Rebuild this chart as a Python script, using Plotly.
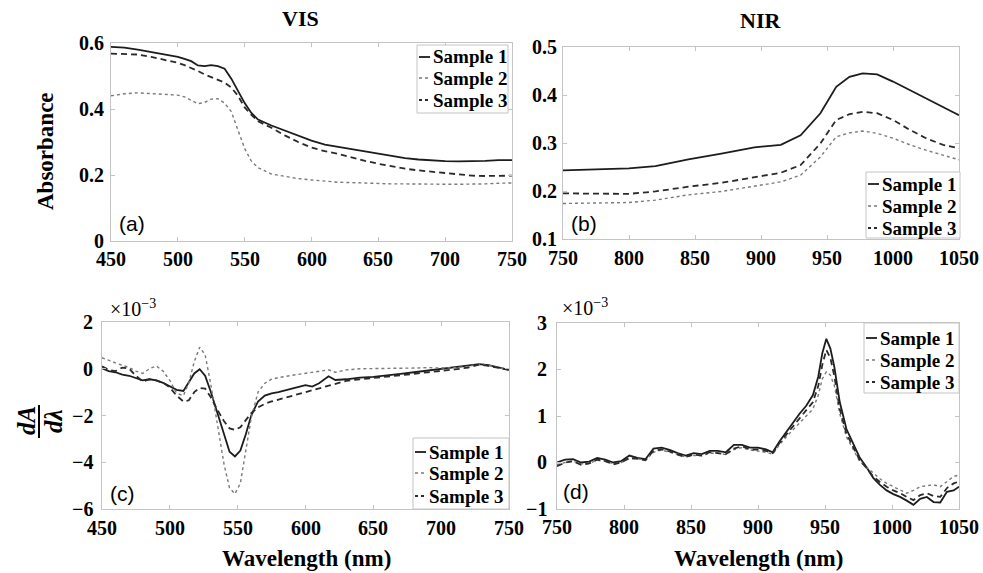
import plotly.graph_objects as go

# ---------------- data ----------------
wl_vis = [450,460,470,480,490,500,505,510,515,520,525,530,535,540,545,550,555,560,570,580,
          590,600,610,620,630,640,650,660,670,680,690,700,710,720,730,740,750]
abs_vis_s1 = [.588,.586,.580,.573,.566,.558,.552,.545,.532,.530,.533,.530,.522,.492,.455,.418,.388,.368,.350,.334,
              .318,.304,.292,.285,.277,.270,.264,.257,.251,.247,.244,.242,.241,.241,.243,.245,.245]
abs_vis_s2 = [.440,.446,.449,.446,.443,.442,.437,.427,.416,.420,.430,.431,.418,.392,.335,.280,.242,.222,.203,.195,
              .189,.185,.181,.178,.177,.175,.174,.173,.173,.172,.172,.172,.172,.172,.173,.175,.176]
abs_vis_s3 = [.568,.567,.565,.558,.550,.540,.533,.525,.515,.505,.496,.488,.480,.465,.440,.405,.382,.363,.343,.320,
              .300,.283,.272,.264,.253,.243,.234,.226,.219,.214,.210,.206,.201,.198,.197,.198,.198]

wl_nir = [750,775,800,820,845,870,895,915,930,945,957,967,977,988,1000,1013,1025,1038,1050]
abs_nir_s1 = [.243,.245,.247,.252,.266,.278,.291,.296,.316,.362,.417,.438,.445,.443,.428,.410,.393,.376,.358]
abs_nir_s2 = [.174,.175,.176,.181,.192,.199,.210,.219,.233,.271,.313,.321,.325,.320,.310,.296,.285,.275,.265]
abs_nir_s3 = [.195,.194,.194,.199,.209,.217,.228,.238,.254,.299,.348,.360,.365,.362,.348,.327,.310,.296,.289]

# derivative values in units of 1e-3
wl_dvis = [450,455,460,465,470,475,480,485,490,495,500,505,510,514,518,522,526,530,535,540,
           544,548,552,556,560,565,570,575,580,590,600,605,610,617,622,630,640,650,660,670,
           680,690,700,710,720,728,735,742,750]
d_vis_s1 = [0.02,-0.1,-0.15,-0.25,-0.3,-0.4,-0.5,-0.45,-0.5,-0.6,-0.75,-0.9,-0.95,-0.6,-0.2,-0.02,-0.3,-0.95,-1.9,-2.9,
            -3.55,-3.75,-3.5,-2.8,-2.0,-1.4,-1.15,-1.05,-1.0,-0.85,-0.7,-0.76,-0.62,-0.32,-0.48,-0.45,-0.38,-0.35,-0.3,-0.22,
            -0.15,-0.08,-0.02,0.05,0.12,0.2,0.15,0.05,-0.05]
d_vis_s2 = [0.47,0.35,0.25,0.15,0.05,-0.1,-0.2,0.0,0.12,-0.1,-0.5,-1.05,-1.15,-0.6,0.3,0.92,0.6,-0.6,-2.3,-4.1,
            -5.1,-5.35,-4.9,-3.5,-2.1,-1.0,-0.62,-0.45,-0.38,-0.28,-0.2,-0.15,-0.1,-0.05,-0.15,-0.05,0.0,0.0,0.0,0.02,
            0.03,0.05,0.03,0.05,0.1,0.2,0.15,0.05,-0.05]
d_vis_s3 = [0.1,-0.05,-0.1,0.05,0.0,-0.3,-0.55,-0.45,-0.5,-0.6,-0.8,-1.15,-1.4,-1.35,-1.0,-0.82,-0.85,-1.2,-1.75,-2.25,
            -2.55,-2.62,-2.5,-2.2,-1.9,-1.65,-1.5,-1.4,-1.32,-1.15,-0.98,-0.9,-0.82,-0.7,-0.62,-0.52,-0.45,-0.4,-0.34,-0.3,
            -0.22,-0.15,-0.1,-0.03,0.05,0.18,0.12,0.05,-0.05]

wl_dnir = [750,756,762,768,774,780,786,792,798,804,810,816,822,828,834,840,846,852,858,864,
           870,876,882,888,894,900,906,911,916,921,926,931,936,941,945,948,951,954,957,961,
           966,971,976,981,986,991,996,1001,1006,1011,1016,1021,1026,1031,1036,1041,1046,1050]
d_nir_s1 = [0.0,0.06,0.07,0.0,0.02,0.1,0.06,0.0,0.03,0.15,0.1,0.07,0.3,0.32,0.27,0.2,0.15,0.2,0.18,0.25,
            0.25,0.22,0.38,0.38,0.32,0.32,0.28,0.22,0.45,0.65,0.87,1.05,1.22,1.45,1.85,2.35,2.66,2.45,2.05,1.3,
            0.72,0.42,0.1,-0.1,-0.33,-0.48,-0.6,-0.68,-0.74,-0.82,-0.91,-0.78,-0.74,-0.85,-0.86,-0.63,-0.6,-0.52]
d_nir_s2 = [-0.05,0.0,0.03,-0.03,-0.02,0.05,0.03,-0.03,0.0,0.08,0.08,0.05,0.22,0.27,0.22,0.18,0.12,0.15,0.15,0.2,
            0.2,0.17,0.28,0.32,0.27,0.25,0.22,0.18,0.38,0.55,0.7,0.85,1.0,1.15,1.45,1.8,1.95,1.88,1.65,1.05,
            0.55,0.3,0.02,-0.1,-0.23,-0.35,-0.45,-0.52,-0.59,-0.66,-0.6,-0.52,-0.5,-0.48,-0.52,-0.41,-0.3,-0.27]
d_nir_s3 = [-0.08,0.0,0.03,-0.05,-0.02,0.06,0.03,-0.04,0.0,0.1,0.08,0.05,0.25,0.28,0.24,0.17,0.12,0.17,0.15,0.22,
            0.2,0.18,0.3,0.35,0.28,0.28,0.25,0.2,0.42,0.6,0.78,0.95,1.12,1.3,1.65,2.1,2.42,2.25,1.85,1.15,
            0.62,0.35,0.05,-0.12,-0.3,-0.42,-0.52,-0.6,-0.66,-0.74,-0.81,-0.7,-0.66,-0.72,-0.74,-0.55,-0.45,-0.41]

series_names = ["Sample 1", "Sample 2", "Sample 3"]
panel_labels = ["(a)", "(b)", "(c)", "(d)"]
section_titles = ["VIS", "NIR"]
vis_xticks = [450, 500, 550, 600, 650, 700, 750]
nir_xticks = [750, 800, 850, 900, 950, 1000, 1050]
vis_xlabels = ["450", "500", "550", "600", "650", "700", "750"]
nir_xlabels = ["750", "800", "850", "900", "950", "1000", "1050"]
abs_vis_ticks = [0, 0.2, 0.4, 0.6]
abs_vis_labels = ["0", "0.2", "0.4", "0.6"]
abs_nir_ticks = [0.1, 0.2, 0.3, 0.4, 0.5]
abs_nir_labels = ["0.1", "0.2", "0.3", "0.4", "0.5"]
d_vis_ticks = [-6, -4, -2, 0, 2]
d_vis_labels = ["−6", "−4", "−2", "0", "2"]
d_nir_ticks = [-1, 0, 1, 2, 3]
d_nir_labels = ["−1", "0", "1", "2", "3"]

# ---------------- styling ----------------
W, H = 983, 573
def px(x): return x / W
def py(y): return 1 - y / H

styles = [dict(color="#1c1c1c", width=1.8, dash="solid"),
          dict(color="#7a7a7a", width=1.4, dash="dot"),
          dict(color="#2a2a2a", width=1.8, dash="6px,4px")]

SERIF = "Liberation Serif"
tickfont = dict(family=SERIF, size=20, color="black", weight="bold")
axis_common = dict(showgrid=False, zeroline=False, showline=True, linecolor="#c4c4c4", linewidth=1,
                   mirror="ticks", ticks="inside", ticklen=4, tickcolor="#c4c4c4",
                   showticklabels=False, automargin=False, tickmode="array")

fig = go.Figure()

panels = [
    (wl_vis, [abs_vis_s1, abs_vis_s2, abs_vis_s3], "x", "y"),
    (wl_nir, [abs_nir_s1, abs_nir_s2, abs_nir_s3], "x2", "y2"),
    (wl_dvis, [d_vis_s1, d_vis_s2, d_vis_s3], "x3", "y3"),
    (wl_dnir, [d_nir_s1, d_nir_s2, d_nir_s3], "x4", "y4"),
]
for xs, ys_list, xa, ya in panels:
    for name, ys, st in zip(series_names, ys_list, styles):
        fig.add_trace(go.Scatter(x=xs, y=ys, mode="lines", name=name, line=st,
                                 xaxis=xa, yaxis=ya, showlegend=False))

# panel geometry (pixels): left, right, top, bottom, x-label gap, y-label gap
geo = [(111, 512, 43, 241, 18, 5), (563, 959, 47, 239, 19, 4),
       (102, 509, 322, 509, 19, 7), (557, 959, 323, 509, 18, 8)]
xranges = [[450, 750], [750, 1050], [450, 750], [750, 1050]]
yranges = [[0, 0.6], [0.1, 0.5], [-6, 2], [-1, 3]]
yt_all = [(abs_vis_ticks, abs_vis_labels), (abs_nir_ticks, abs_nir_labels),
          (d_vis_ticks, d_vis_labels), (d_nir_ticks, d_nir_labels)]
xt_all = [(vis_xticks, vis_xlabels), (nir_xticks, nir_xlabels),
          (vis_xticks, vis_xlabels), (nir_xticks, nir_xlabels)]

layout = dict(width=W, height=H, margin=dict(l=0, r=0, t=0, b=0, autoexpand=False),
              paper_bgcolor="white", plot_bgcolor="white", showlegend=False,
              font=dict(family=SERIF, color="black"))
ann = []
shapes = []
for i, ((l, r, t, b, gx, gy), xr, yr, (ytv, ytt), (xtv, xtt)) in enumerate(zip(geo, xranges, yranges, yt_all, xt_all)):
    sfx = "" if i == 0 else str(i + 1)
    layout["xaxis" + sfx] = dict(axis_common, domain=[px(l), px(r)], range=xr, tickvals=xtv, anchor="y" + sfx)
    layout["yaxis" + sfx] = dict(axis_common, domain=[py(b), py(t)], range=yr, tickvals=ytv, anchor="x" + sfx)
    # tick labels as text placed through the axis scales
    for v, s in zip(xtv, xtt):
        ann.append(dict(text=s, x=v, xref="x" + sfx, y=py(b + gx), yref="paper", xanchor="center",
                        yanchor="middle", showarrow=False, font=tickfont))
    for v, s in zip(ytv, ytt):
        ann.append(dict(text=s, y=v, yref="y" + sfx, x=px(l - gy), xref="paper", xanchor="right",
                        yanchor="middle", showarrow=False, font=tickfont))
fig.update_layout(**layout)


def note(text, x, y, font, xanchor="center", textangle=0):
    ann.append(dict(text=text, x=px(x), y=py(y), xref="paper", yref="paper", xanchor=xanchor,
                    yanchor="middle", textangle=textangle, showarrow=False, font=font))

titlefont = dict(family=SERIF, size=22, color="black", weight="bold")
# section titles
note(section_titles[0], 300, 18, titlefont)
note(section_titles[1], 760, 20, titlefont)
# axis titles
note("Absorbance", 46, 151, dict(family=SERIF, size=23, color="black", weight="bold"), textangle=-90)
for cx in (306, 758):
    note("Wavelength (nm)", cx, 558, dict(family=SERIF, size=23, color="black", weight="bold"))
# dA/dλ fraction
fracfont = dict(family=SERIF, size=25, color="black", weight="bold", style="italic")
note("dA", 26, 421, fracfont, textangle=-90)
note("dλ", 53, 421, fracfont, textangle=-90)
shapes.append(dict(type="line", xref="paper", yref="paper", x0=px(39), x1=px(39), y0=py(405), y1=py(438),
                   line=dict(color="black", width=2)))
# exponent labels
for cx, cy in ((133, 308), (585, 307)):
    note("×10<sup>−3</sup>", cx, cy, dict(family=SERIF, size=20, color="black"))
# panel labels
for lab, (cx, cy) in zip(panel_labels, [(132, 223), (584, 223), (123, 493), (576, 491)]):
    note(lab, cx, cy, dict(family="Liberation Sans", size=21, color="black"))

# legends (box left, right, top, bottom, row centres)
legends = [(417, 508, 45, 113, [57, 78, 100]),
           (866, 960, 172, 238, [184, 206, 228]),
           (413, 509, 438, 509, [452, 473, 496]),
           (864, 959, 323, 393, [338, 360, 382])]
legfont = dict(family=SERIF, size=19, color="black", weight="bold")
for (l, r, t, b, rows) in legends:
    shapes.append(dict(type="rect", xref="paper", yref="paper", x0=px(l), x1=px(r), y0=py(b), y1=py(t),
                       line=dict(color="#c4c4c4", width=1), fillcolor="white", layer="above"))
    for name, st, ry in zip(series_names, styles, rows):
        d = st["dash"] if st["dash"] in ("solid", "dot") else "3px,3px"
        shapes.append(dict(type="line", xref="paper", yref="paper", x0=px(l + 2), x1=px(l + 13),
                           y0=py(ry), y1=py(ry), line=dict(color=st["color"], width=st["width"], dash=d)))
        note(name, l + 14, ry, legfont, xanchor="left")

fig.update_layout(annotations=ann, shapes=shapes)
fig.write_html("out.html", config={"displayModeBar": False},
               post_script="document.body.style.margin='0px';document.body.style.overflow='hidden';")
